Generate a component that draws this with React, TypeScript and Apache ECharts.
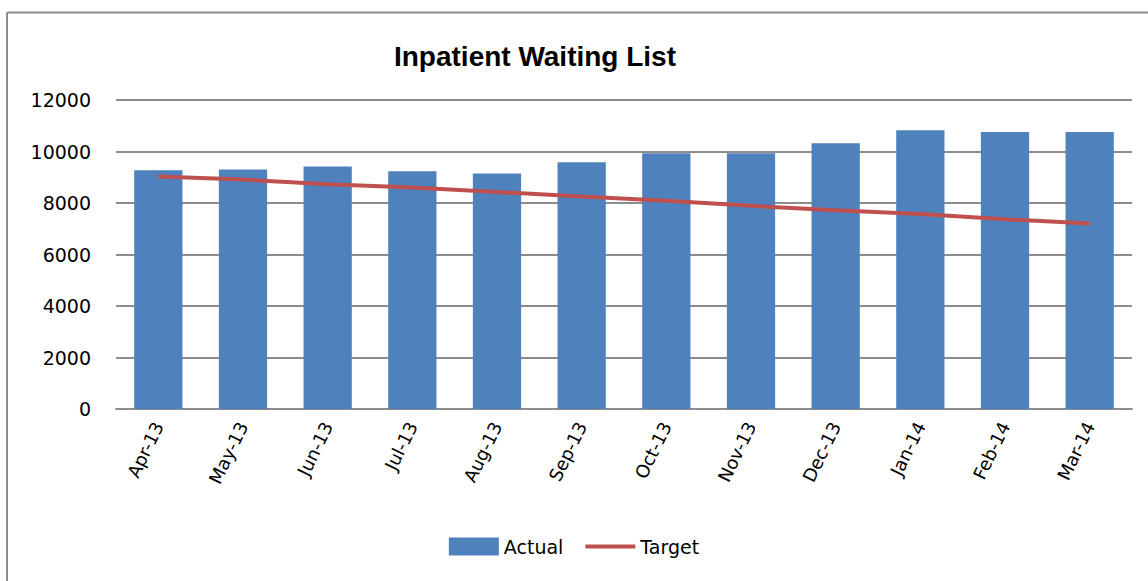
import React, { useEffect, useRef } from "react";
import * as echarts from "echarts";

const categories = ["Apr-13", "May-13", "Jun-13", "Jul-13", "Aug-13", "Sep-13", "Oct-13", "Nov-13", "Dec-13", "Jan-14", "Feb-14", "Mar-14"];
const actual = [9270, 9300, 9420, 9230, 9150, 9580, 9930, 9930, 10320, 10830, 10760, 10760];
const target = [9030, 8910, 8730, 8600, 8430, 8250, 8090, 7890, 7720, 7570, 7370, 7200];
const yTicks = { min: 0, max: 12000, interval: 2000 };

export default function App() {
  const ref = useRef<HTMLDivElement>(null);
  useEffect(() => {
    document.body.style.margin = "0";
    const chart = echarts.init(ref.current!, null, { renderer: "svg" });
    chart.setOption({
      animation: false,
      backgroundColor: "#ffffff",
      title: {
        text: "Inpatient Waiting List",
        left: 530,
        textAlign: "center",
        top: 37,
        textStyle: { fontFamily: "Liberation Sans Narrow, Liberation Sans, Arial", fontWeight: "bold", fontSize: 28, color: "#000" },
      },
      graphic: [
        { type: "line", shape: { x1: 7, y1: 12.5, x2: 1148, y2: 12.5 }, style: { stroke: "#8c8c8c", lineWidth: 2 } },
        { type: "line", shape: { x1: 7, y1: 12.5, x2: 7, y2: 581 }, style: { stroke: "#8c8c8c", lineWidth: 2 } },
      ],
      grid: { left: 116, right: 16, top: 100, bottom: 172, containLabel: false },
      legend: {
        bottom: 20,
        left: "center",
        itemGap: 20,
        itemWidth: 50,
        itemHeight: 18,
        textStyle: { fontFamily: "DejaVu Sans", fontSize: 19, color: "#000" },
        data: [
          { name: "Actual", icon: "rect" },
          { name: "Target", itemStyle: { opacity: 0 }, lineStyle: { width: 4, color: "#C0504D" } },
        ],
      },
      xAxis: {
        type: "category",
        data: categories,
        axisLine: { lineStyle: { color: "#8c8c8c", width: 2 } },
        axisTick: { show: false },
        axisLabel: { rotate: 64, color: "#000", fontFamily: "DejaVu Sans", fontSize: 18, margin: 14, interval: 0 },
      },
      yAxis: {
        type: "value",
        min: yTicks.min,
        max: yTicks.max,
        interval: yTicks.interval,
        axisLine: { show: false },
        axisTick: { show: false },
        axisLabel: { color: "#000", fontFamily: "DejaVu Sans", fontSize: 19, margin: 25, formatter: (v: number) => String(v) },
        splitLine: { lineStyle: { color: "#8c8c8c", width: 2 } },
      },
      series: [
        {
          name: "Actual",
          type: "bar",
          data: actual,
          barWidth: "57%",
          itemStyle: { color: "#4F81BD" },
        },
        {
          name: "Target",
          type: "line",
          data: target,
          symbol: "none",
          lineStyle: { color: "#C0504D", width: 4 },
          itemStyle: { color: "#C0504D" },
        },
      ],
    });
    return () => chart.dispose();
  }, []);
  return <div ref={ref} style={{ width: 1148, height: 581 }} />;
}
